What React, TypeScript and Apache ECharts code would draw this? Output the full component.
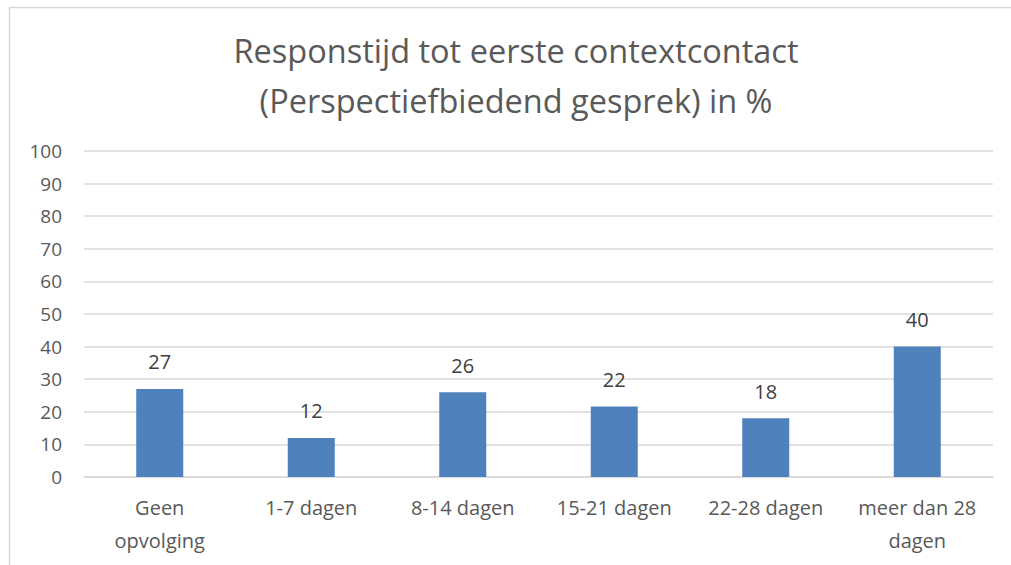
import React, { useEffect, useRef } from "react";
import * as echarts from "echarts";

const categories = ["Geen\nopvolging", "1-7 dagen", "8-14 dagen", "15-21 dagen", "22-28 dagen", "meer dan 28\ndagen"];
const values = [27, 12, 26, 21.6, 18, 40];
const yTicks = { min: 0, max: 100, interval: 10 };
const titleLines = ["Responstijd tot eerste contextcontact", "(Perspectiefbiedend gesprek) in %"];

const FONT = "'Open Sans', 'Noto Sans', sans-serif";

export default function App() {
  const ref = useRef<HTMLDivElement>(null);
  useEffect(() => {
    const chart = echarts.init(ref.current!, null, { renderer: "svg" });
    chart.setOption({
      animation: false,
      backgroundColor: "#ffffff",
      graphic: [
        {
          type: "rect",
          shape: { x: 9.5, y: 7.5, width: 1100, height: 700 },
          style: { fill: "none", stroke: "#d9d9d9", lineWidth: 1.5 },
          silent: true,
        },
        ...titleLines.map((t, i) => ({
          type: "text",
          x: 516,
          y: 50 + i * 50,
          silent: true,
          style: {
            text: t,
            align: "center",
            verticalAlign: "middle",
            fontFamily: FONT,
            fontSize: 32.5,
            fill: "#595959",
          },
        })),
      ],
      grid: { left: 84, right: 18, top: 151, bottom: 88, containLabel: false },
      xAxis: {
        type: "category",
        data: categories,
        axisLine: { show: true, lineStyle: { color: "#d9d9d9", width: 1.5 } },
        axisTick: { show: false },
        axisLabel: {
          fontFamily: FONT,
          fontSize: 20,
          color: "#595959",
          margin: 14,
          lineHeight: 33,
          interval: 0,
        },
      },
      yAxis: {
        type: "value",
        min: yTicks.min,
        max: yTicks.max,
        interval: yTicks.interval,
        axisLine: { show: false },
        axisTick: { show: false },
        splitLine: { lineStyle: { color: "#d9d9d9", width: 1.5 } },
        axisLabel: {
          fontFamily: FONT,
          fontSize: 19,
          color: "#595959",
          margin: 22,
        },
      },
      series: [
        {
          type: "bar",
          data: values,
          barWidth: 47,
          itemStyle: { color: "#4f81bd" },
          label: {
            show: true,
            position: "top",
            distance: 17,
            fontFamily: FONT,
            fontSize: 20,
            color: "#404040",
            formatter: (p: any) => String(Math.round(p.value)),
          },
        },
      ],
    });
    return () => chart.dispose();
  }, []);
  return (
    <div
      ref={ref}
      style={{ position: "fixed", left: 0, top: 0, width: 1011, height: 565 }}
    />
  );
}
